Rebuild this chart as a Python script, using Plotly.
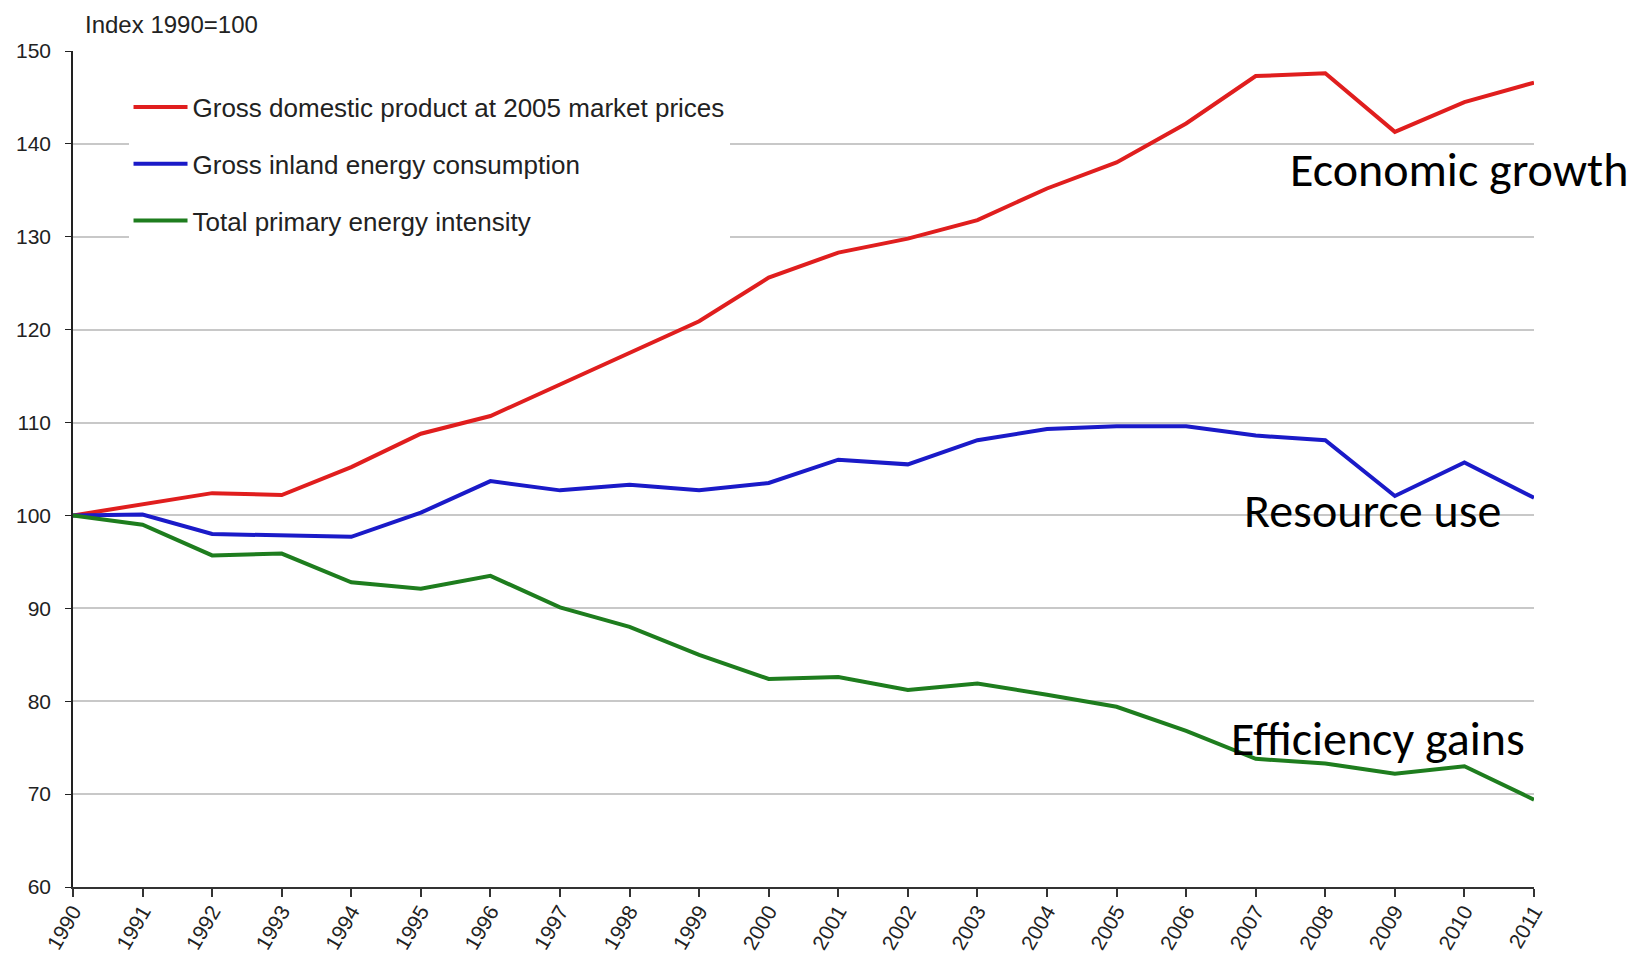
import plotly.graph_objects as go

years = list(range(1990, 2012))
gdp = [100, 101.2, 102.4, 102.2, 105.2, 108.8, 110.7, 114.1, 117.5, 120.9, 125.6,
       128.3, 129.8, 131.8, 135.2, 138.0, 142.2, 147.3, 147.6, 141.3, 144.5, 146.6]
energy = [100, 100.1, 98.0, 97.9, 97.7, 100.3, 103.7, 102.7, 103.3, 102.7, 103.5,
          106.0, 105.5, 108.1, 109.3, 109.6, 109.6, 108.6, 108.1, 102.1, 105.7, 101.9]
intensity = [100, 99.0, 95.7, 95.9, 92.8, 92.1, 93.5, 90.1, 88.0, 85.0, 82.4,
             82.6, 81.2, 81.9, 80.7, 79.4, 76.8, 73.8, 73.3, 72.2, 73.0, 69.4]

names = ["Gross domestic product at 2005 market prices",
         "Gross inland energy consumption",
         "Total primary energy intensity"]
colors = ["#e01e1e", "#1a1ac8", "#1e7d1e"]
series = [gdp, energy, intensity]

labels = ["Economic growth", "Resource use", "Efficiency gains"]

base_family = "Liberation Sans Narrow, Liberation Sans, Arial"

fig = go.Figure()
for i, (nm, col, vals) in enumerate(zip(names, colors, series)):
    fig.add_trace(go.Scatter(x=years, y=vals, mode="lines", name=nm,
                             legendgroup=f"g{i}",
                             line=dict(color=col, width=4)))

fig.update_layout(
    width=1640, height=957,
    margin=dict(l=65, r=114, t=43, b=78),
    paper_bgcolor="white", plot_bgcolor="white",
    showlegend=True,
    legend=dict(x=0.038, y=0.961, xanchor="left", yanchor="top",
                bgcolor="white", tracegroupgap=20,
                font=dict(family=base_family, size=26, color="#222222"),
                itemwidth=54),
    xaxis=dict(range=[1990, 2011], tickmode="array", tickvals=years,
               ticktext=[str(y) for y in years], tickangle=-60, automargin=False,
               showgrid=False, zeroline=False, showline=True, linecolor="#333333", linewidth=2,
               ticks="outside", ticklen=8, tickcolor="#333333", tickwidth=1.5,
               ticklabelstandoff=-6,
               tickfont=dict(family=base_family, size=21, color="#222222")),
    yaxis=dict(range=[60, 150], tickmode="array", tickvals=list(range(60, 151, 10)),
               automargin=False,
               showgrid=True, gridcolor="#c8c8c8", gridwidth=1.5, zeroline=False,
               showline=True, linecolor="#222222", linewidth=1.5,
               ticks="outside", ticklen=6, tickcolor="#222222", ticklabelstandoff=10,
               tickfont=dict(family=base_family, size=21, color="#222222")),
)

fig.add_annotation(text="Index 1990=100", xref="paper", yref="paper", x=0.007, y=1.0,
                   yshift=42, xanchor="left", yanchor="top", showarrow=False,
                   font=dict(family=base_family, size=24, color="#222222"))

ann_font = dict(family="Carlito, Noto Sans, Liberation Sans", size=48, color="black")
fig.add_annotation(text=labels[0], xref="paper", yref="y", x=1.0, y=137.25, xanchor="left",
                   xshift=-246, yanchor="middle", showarrow=False, font=ann_font)
fig.add_annotation(text=labels[1], xref="paper", yref="y", x=1.0, y=100.55, xanchor="left",
                   xshift=-292, yanchor="middle", showarrow=False, font=ann_font)
fig.add_annotation(text=labels[2], xref="paper", yref="y", x=1.0, y=76.0, xanchor="left",
                   xshift=-305, yanchor="middle", showarrow=False, font=ann_font)

fig.write_html("out.html")
